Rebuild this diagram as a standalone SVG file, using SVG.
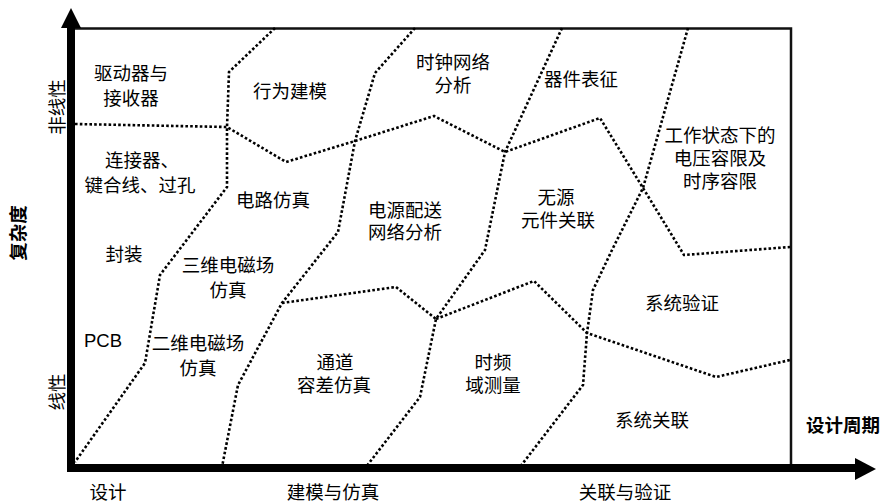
<svg xmlns="http://www.w3.org/2000/svg" width="881" height="502" viewBox="0 0 881 502">
<style>
.t{font-family:"Liberation Sans","Noto Sans CJK SC",sans-serif;font-size:18.5px;fill:#000;text-anchor:middle}
.b{font-weight:bold}
.d{fill:none;stroke:#000;stroke-width:2.6;stroke-dasharray:2.6 2.2}
</style>
<rect width="881" height="502" fill="#fff"/>
<g id="frame">
<polyline points="75,28.5 791,28.5 791,468" fill="none" stroke="#111" stroke-width="2.5"/>
</g>
<g id="connectors">
<path class="d" d="M75,124 L227,127 L286,162 L355,141 L434,116 L505,152 L600,118 L643,188 L684,255 L790,247"/>
<path class="d" d="M275,28 L229,72 L227,127 L227,187 L160,275 L145,363 L75,462"/>
<path class="d" d="M415,28 L375,73 L355,141 L338,232 L282,303 L238,385 L222,467"/>
<path class="d" d="M282,303 L396,287 L436,319"/>
<path class="d" d="M562,28 L505,152 L485,250 L436,319 L420,397 L366,467"/>
<path class="d" d="M436,319 L534,281 L587,333 L716,377 L790,360"/>
<path class="d" d="M688,28 L643,188 L612,250 L593,290 L587,333 L583,385 L520,467"/>
</g>
<g id="axes">
<line x1="71" y1="472" x2="71" y2="26" stroke="#000" stroke-width="8"/>
<polygon points="71,8 61,28 81,28" fill="#000"/>
<line x1="67" y1="468" x2="857" y2="468" stroke="#000" stroke-width="8"/>
<polygon points="876,469 855,458 855,480" fill="#000"/>
</g>
<g id="axis-labels">
<text class="t b" transform="translate(18,233) rotate(-90)" y="6.5">复杂度</text>
<text class="t" transform="translate(57,107) rotate(-90)" y="6.5">非线性</text>
<text class="t" transform="translate(57,392) rotate(-90)" y="6.5">线性</text>
<text class="t" x="108" y="499">设计</text>
<text class="t" x="333" y="499">建模与仿真</text>
<text class="t" x="625" y="499">关联与验证</text>
<text class="t b" x="843" y="431.5">设计周期</text>
</g>
<g id="n1"><text class="t" x="131" y="79.5">驱动器与</text><text class="t" x="131" y="104.5">接收器</text></g>
<g id="n2"><text class="t" x="290" y="97.5">行为建模</text></g>
<g id="n3"><text class="t" x="453" y="68.5">时钟网络</text><text class="t" x="453" y="91.5">分析</text></g>
<g id="n4"><text class="t" x="581" y="85.5">器件表征</text></g>
<g id="n5"><text class="t" x="720" y="141.5">工作状态下的</text><text class="t" x="720" y="164.5">电压容限及</text><text class="t" x="720" y="187.5">时序容限</text></g>
<g id="n6"><text class="t" x="142" y="166.5">连接器、</text><text class="t" x="140" y="191.5">键合线、过孔</text></g>
<g id="n7"><text class="t" x="273" y="206.5">电路仿真</text></g>
<g id="n8"><text class="t" x="405" y="216.5">电源配送</text><text class="t" x="405" y="238.5">网络分析</text></g>
<g id="n9"><text class="t" x="556" y="203.5">无源</text><text class="t" x="558" y="226.5">元件关联</text></g>
<g id="n10"><text class="t" x="124" y="260.5">封装</text></g>
<g id="n11"><text class="t" x="228" y="271.5">三维电磁场</text><text class="t" x="228" y="296.5">仿真</text></g>
<g id="n12"><text class="t" x="682" y="309.5">系统验证</text></g>
<g id="n13"><text class="t" x="103" y="347">PCB</text></g>
<g id="n14"><text class="t" x="198" y="349.5">二维电磁场</text><text class="t" x="198" y="374.5">仿真</text></g>
<g id="n15"><text class="t" x="335" y="368.5">通道</text><text class="t" x="334" y="391.5">容差仿真</text></g>
<g id="n16"><text class="t" x="493" y="368.5">时频</text><text class="t" x="493" y="391.5">域测量</text></g>
<g id="n17"><text class="t" x="652" y="426.5">系统关联</text></g>
</svg>
